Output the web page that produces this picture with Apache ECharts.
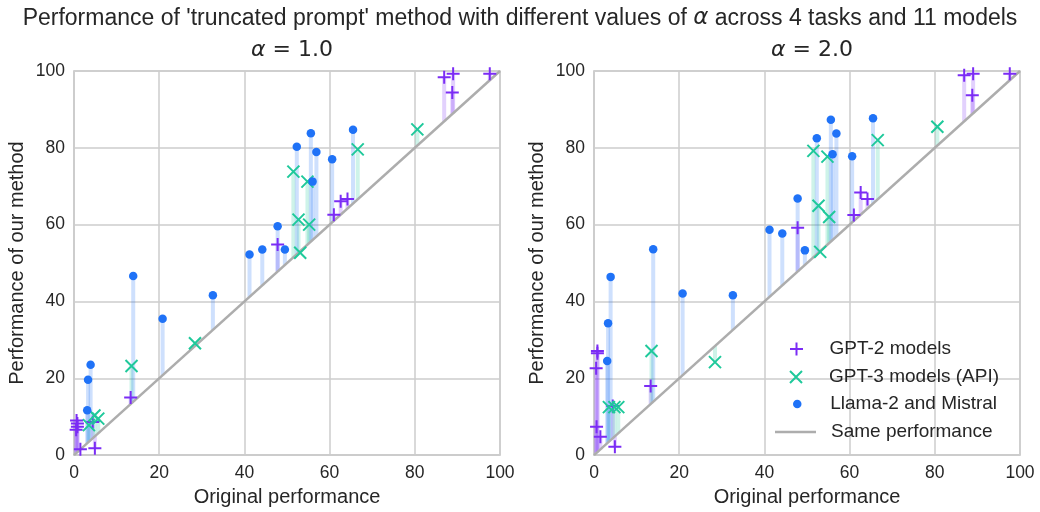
<!DOCTYPE html>
<html><head><meta charset="utf-8">
<script src="https://cdn.jsdelivr.net/npm/echarts@6/dist/echarts.min.js"></script>
<style>html,body{margin:0;padding:0;background:#fff}#c{width:1040px;height:512px}</style>
</head><body><div id="c"></div>
<script>
// Original performance (x) and performance of our method for alpha=1.0 / alpha=2.0
const gpt2Orig = [13.3, 4.9, 1.5, 0.6, 0.8, 0.8, 0.5, 4.4, 47.8, 61.0, 62.6, 64.2, 86.9, 89.0, 88.8, 97.6];
const gpt2A1   = [15.0, 1.8, 1.5, 9.0, 8.2, 7.4, 6.6, 8.6, 54.8, 62.6, 66.1, 66.7, 98.4, 99.3, 94.4, 99.3];
const gpt2A2   = [18.0, 2.2, 4.8, 7.4, 27.1, 26.5, 22.6, 12.8, 59.2, 62.5, 68.4, 66.7, 98.9, 99.3, 93.7, 99.3];

const gpt3Orig = [13.5, 28.4, 3.5, 4.8, 5.7, 51.5, 54.8, 52.7, 55.2, 53.1, 66.6, 80.6];
const gpt3A1   = [23.2, 29.1, 7.8, 10.3, 9.5, 73.8, 71.2, 61.3, 60.0, 52.7, 79.6, 84.8];
const gpt3A2   = [27.1, 24.2, 12.5, 12.5, 12.5, 79.2, 77.7, 64.9, 62.0, 52.9, 82.0, 85.5];

const llamaOrig = [13.9, 20.8, 32.6, 3.9, 3.3, 3.1, 41.2, 44.2, 47.8, 49.5, 52.3, 55.6, 56.9, 56.0, 60.6, 65.5];
const llamaA1   = [46.6, 35.5, 41.6, 23.5, 19.6, 11.7, 52.2, 53.5, 59.6, 53.5, 80.3, 83.8, 78.9, 71.2, 77.0, 84.7];
const llamaA2   = [53.6, 42.1, 41.6, 46.4, 34.3, 24.5, 58.7, 57.7, 66.8, 53.3, 82.5, 87.3, 83.7, 78.3, 77.8, 87.7];

const ticks = [0, 20, 40, 60, 80, 100];
const panelTitles = ['1.0', '2.0'];
const seriesNames = ['GPT-2 models', 'GPT-3 models (API)', 'Llama-2 and Mistral', 'Same performance'];

const C2 = '#7b2cf5', C3 = '#1fc99b', CL = '#1f72f7', CD = '#adadad';
const TXT = '#262626';
const FONT = 'Liberation Sans, Arial, sans-serif';
const PLUS = 'path://M1,0 L1,2 M0,1 L2,1';
const CROSS = 'path://M0,0 L2,2 M2,0 L0,2';

function pairs(xs, ys){ return xs.map((x,i)=>[x, ys[i]]); }

function stems(xs, ys, color, gi){
  return {
    type:'custom', xAxisIndex:gi, yAxisIndex:gi, clip:true, silent:true, z:1,
    data: pairs(xs, ys),
    renderItem:(params, api)=>{
      const x = api.value(0), y = api.value(1);
      const p0 = api.coord([x, x]), p1 = api.coord([x, y]);
      return {type:'line', shape:{x1:p0[0], y1:p0[1], x2:p1[0], y2:p1[1]},
              style:{stroke:color, lineWidth:4, opacity:0.22}};
    }
  };
}

function scatter(name, xs, ys, color, symbol, size, gi, stroke){
  return {
    type:'scatter', name, xAxisIndex:gi, yAxisIndex:gi, z:3, clip:true,
    data: pairs(xs, ys), symbol, symbolSize:size,
    itemStyle: stroke ? {color:color, borderColor:color, borderWidth:2, opacity:1}
                      : {color:color, borderWidth:0, opacity:1},
    emphasis:{disabled:true}
  };
}

const series = [];
const ys2 = [gpt2A1, gpt2A2], ys3 = [gpt3A1, gpt3A2], ysL = [llamaA1, llamaA2];
for (let g = 0; g < 2; g++){
  series.push(stems(gpt2Orig, ys2[g], C2, g));
  series.push(stems(gpt3Orig, ys3[g], C3, g));
  series.push(stems(llamaOrig, ysL[g], CL, g));
  series.push({type:'line', name:seriesNames[3], xAxisIndex:g, yAxisIndex:g, z:2,
    data:[[ticks[0], ticks[0]], [ticks[ticks.length-1], ticks[ticks.length-1]]],
    symbol:'none', lineStyle:{color:CD, width:2.5}, itemStyle:{color:CD}, silent:true});
  series.push(scatter(seriesNames[0], gpt2Orig, ys2[g], C2, PLUS, 13, g, true));
  series.push(scatter(seriesNames[1], gpt3Orig, ys3[g], C3, CROSS, 12, g, true));
  series.push(scatter(seriesNames[2], llamaOrig, ysL[g], CL, 'circle', 8.5, g, false));
}

function axis(gi, isX){
  return {
    type:'value', gridIndex:gi, min:ticks[0], max:ticks[ticks.length-1], interval:ticks[1]-ticks[0],
    name: isX ? 'Original performance' : 'Performance of our method',
    nameLocation:'middle', nameGap: isX ? 30 : 47,
    nameTextStyle:{color:TXT, fontSize:20, fontFamily:FONT},
    axisLine:{show:true, lineStyle:{color:'#cccccc', width:1.5}},
    axisTick:{show:false},
    axisLabel:{color:TXT, fontSize:17.5, fontFamily:FONT, margin:9},
    splitLine:{show:true, lineStyle:{color:'#cccccc', width:1.5}}
  };
}

const gridL = [74, 594];
const legendRows = [348, 376, 403, 431];
const legendCfg = [
  {name:seriesNames[0], left:784, w:56, h:13, pad:0},
  {name:seriesNames[1], left:784, w:56, h:12, pad:0},
  {name:seriesNames[2], left:788, w:56, h:8.5, pad:0},
  {name:seriesNames[3], left:770, w:41, h:2.5, pad:10, icon:'path://M0,0 L41,0 L41,2.5 L0,2.5 Z'}
];

const option = {
  backgroundColor:'#fff',
  animation:false,
  title:[
    {text:"Performance of 'truncated prompt' method with different values of {i|α} across 4 tasks and 11 models",
     left:'center', top:2,
     textStyle:{color:TXT, fontSize:23, fontWeight:'normal', fontFamily:FONT,
       rich:{i:{fontStyle:'italic', fontSize:23, fontWeight:'normal', color:TXT, fontFamily:'DejaVu Sans'}}}},
    ...panelTitles.map((t,g)=>({
      text:'{a|α}{b| = ' + t + '}', left: gridL[g] + 213, top:34, textAlign:'center',
      textStyle:{fontWeight:'normal', rich:{a:{fontStyle:'italic', fontWeight:'normal', fontSize:22, color:TXT, fontFamily:'DejaVu Sans'},
                       b:{fontSize:22, fontWeight:'normal', color:TXT, fontFamily:'DejaVu Sans'}}}
    }))
  ],
  grid: gridL.map(l=>({left:l, top:71, width:426, height:386, show:true, borderColor:'#cccccc', borderWidth:1.5, backgroundColor:'transparent'})),
  xAxis:[axis(0,true), axis(1,true)],
  yAxis:[axis(0,false), axis(1,false)],
  legend: legendCfg.map((c,i)=>({
    data:[c.icon ? {name:c.name, icon:c.icon} : c.name], orient:'vertical', left:c.left, top:legendRows[i]-13.5,
    itemWidth:c.w, itemHeight:c.h, selectedMode:false,
    textStyle:{color:TXT, fontSize:19, fontFamily:FONT, padding:[0,0,0,c.pad]}
  })),
  series
};

const chart = echarts.init(document.getElementById('c'), null, {renderer:'canvas'});
chart.setOption(option);
</script></body></html>
